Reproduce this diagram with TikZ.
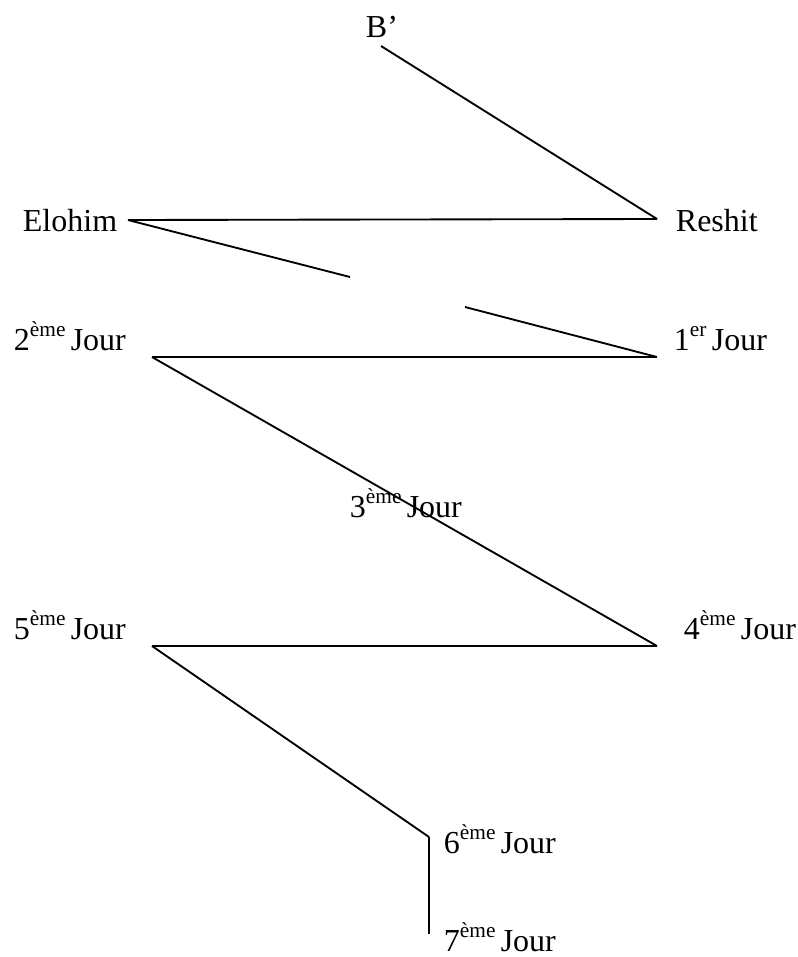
\documentclass[tikz,border=0pt]{standalone}
\usepackage{fontspec}
\setmainfont{Liberation Serif}
\newcommand{\jour}[2]{#1\raisebox{10pt}{\fontsize{16}{16}\selectfont #2 }Jour}

\begin{document}
\begin{tikzpicture}[x=0.75pt,y=-0.75pt,line width=1.4pt,
    every node/.style={anchor=base west,inner sep=0pt,font=\fontsize{24}{28}\selectfont}]
        \useasboundingbox (0,0) rectangle (798,957);
        \node (Bp) at (365,37) {B’};
        \node (El) at (22,231) {Elohim};
        \node (Re) at (675,231) {Reshit};
        \node (J2) at (13,350) {\jour{2}{ème}};
        \node (J1) at (673,350) {\jour{1}{er}};
        \node (J3) at (349,517) {\jour{3}{ème}};
        \node (J5) at (13,639) {\jour{5}{ème}};
        \node (J4) at (683,639) {\jour{4}{ème}};
        \node (J6) at (443,853) {\jour{6}{ème}};
        \node (J7) at (443,951) {\jour{7}{ème}};
        \coordinate (Bp0) at (381,46);
        \coordinate (El0) at (128,220);
        \coordinate (Re0) at (657,219);
        \coordinate (Ga) at (350,277);
        \coordinate (Gb) at (465,307);
        \coordinate (J10) at (657,357);
        \coordinate (J20) at (152,357);
        \coordinate (J40) at (657,646);
        \coordinate (J50) at (152,646);
        \coordinate (J60) at (429,837);
        \coordinate (J70) at (429,934);
        \draw (Bp0) to (Re0);
        \draw (Re0) to (El0);
        \draw (El0) to (Ga);
        \draw (Gb) to (J10);
        \draw (J10) to (J20);
        \draw (J20) to (J40);
        \draw (J40) to (J50);
        \draw (J50) to (J60);
        \draw (J60) to (J70);
      \end{tikzpicture}
\end{document}
